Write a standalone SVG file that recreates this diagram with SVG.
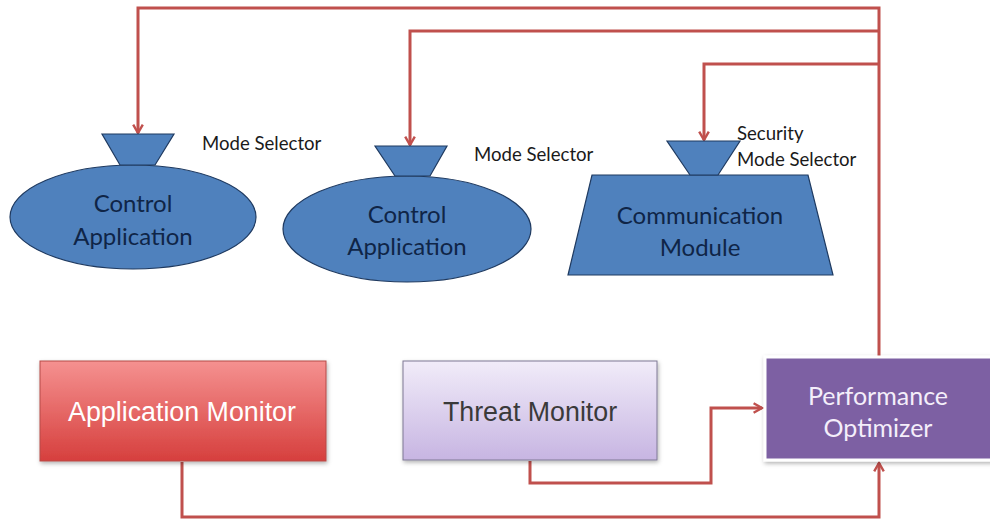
<svg xmlns="http://www.w3.org/2000/svg" width="990" height="521" viewBox="0 0 990 521">
<style>
.blue{fill:#4f81bd;stroke:#1f3a60;stroke-width:1.2}
.bt{font-family:Lato,"Open Sans",sans-serif;font-size:24px;fill:#0f2547;text-anchor:middle}
.lbl{font-family:Lato,"Open Sans",sans-serif;font-size:18.6px;fill:#1a1a1a}
.con{fill:none;stroke:#c0504d;stroke-width:3}
.at{font-family:"Liberation Sans",Arial,sans-serif;font-size:26.8px;text-anchor:middle}
.pt{font-family:Lato,"Open Sans",sans-serif;font-size:25px;fill:#f4eefa;text-anchor:middle}
</style>
<defs>
<marker id="ar" viewBox="0 0 10 10" refX="8.5" refY="5" markerWidth="4" markerHeight="4" orient="auto" markerUnits="strokeWidth">
<path d="M1.5,1 L8.5,5 L1.5,9" fill="none" stroke="#c0504d" stroke-width="2"/>
</marker>
<linearGradient id="gr" x1="0" y1="0" x2="0" y2="1">
<stop offset="0" stop-color="#f59190"/>
<stop offset="1" stop-color="#d63f3d"/>
</linearGradient>
<linearGradient id="gp" x1="0" y1="0" x2="0" y2="1">
<stop offset="0" stop-color="#f1ecf9"/>
<stop offset="1" stop-color="#c7b5e2"/>
</linearGradient>
<filter id="sh" x="-10%" y="-10%" width="125%" height="130%">
<feDropShadow dx="1" dy="2" stdDeviation="2" flood-color="#000" flood-opacity="0.3"/>
</filter>
</defs>

<g id="connectors">
<path class="con" d="M879,357 V8 H138 V133" marker-end="url(#ar)"/>
<path class="con" d="M879,31 H410 V145" marker-end="url(#ar)"/>
<path class="con" d="M879,64 H704 V140" marker-end="url(#ar)"/>
<path class="con" d="M182,462 V517 H879 V463" marker-end="url(#ar)"/>
<path class="con" d="M530,461 V483 H711 V408 H762" marker-end="url(#ar)"/>
</g>

<g id="control-app-1">
<ellipse class="blue" cx="133" cy="217" rx="123" ry="52"/>
<polygon class="blue" points="102,134 174,134 155,165 120,165"/>
<text class="bt" x="133" y="212">Control</text>
<text class="bt" x="133" y="245">Application</text>
<text class="lbl" x="202" y="150">Mode Selector</text>
</g>

<g id="control-app-2">
<ellipse class="blue" cx="407" cy="229" rx="124" ry="53"/>
<polygon class="blue" points="375,146 447,146 430,176 395,176"/>
<text class="bt" x="407" y="223">Control</text>
<text class="bt" x="407" y="255">Application</text>
<text class="lbl" x="474" y="161">Mode Selector</text>
</g>

<g id="comm-module">
<polygon class="blue" points="592,175 808,175 833,275 568,275"/>
<polygon class="blue" points="667,141 740,141 718,175 690,175"/>
<text class="bt" x="700" y="224">Communication</text>
<text class="bt" x="700" y="256">Module</text>
<text class="lbl" x="737" y="140">Security</text>
<text class="lbl" x="737" y="166">Mode Selector</text>
</g>

<g id="app-monitor">
<rect x="40" y="361" width="286" height="100" fill="url(#gr)" stroke="#b64a48" stroke-width="1" filter="url(#sh)"/>
<text class="at" x="182" y="421" fill="#ffffff">Application Monitor</text>
</g>

<g id="threat-monitor">
<rect x="403" y="361" width="254" height="99" fill="url(#gp)" stroke="#7f7894" stroke-width="1" filter="url(#sh)"/>
<text class="at" x="530" y="421" fill="#3a3a3a">Threat Monitor</text>
</g>

<g id="perf-optimizer">
<rect x="765" y="357" width="235" height="103" fill="#7d60a3" stroke="#ffffff" stroke-width="3" filter="url(#sh)"/>
<text class="pt" x="878" y="405">Performance</text>
<text class="pt" x="878" y="437">Optimizer</text>
</g>
</svg>
